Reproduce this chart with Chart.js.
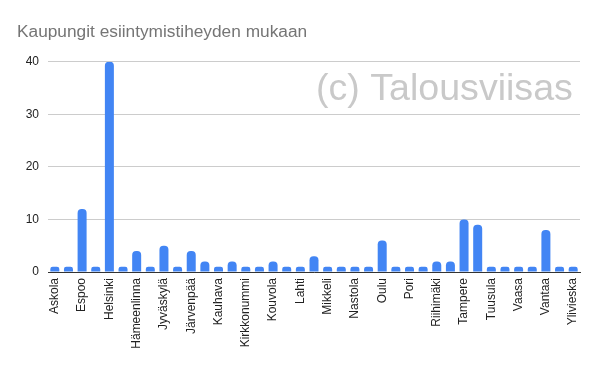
<!DOCTYPE html>
<html>
<head>
<meta charset="utf-8">
<script src="https://cdn.jsdelivr.net/npm/chart.js@4"></script>
<style>
  body { margin: 0; background: #fff; }
</style>
</head>
<body>
<canvas id="cityChart" width="600" height="371"></canvas>
<script>
// cities in alphabetical order, every other label is hidden on the axis
const cities = [
  "Askola", "Ekenäs", "Espoo", "Hamina", "Helsinki", "Hyvinkää", "Hämeenlinna", "Imatra",
  "Jyväskylä", "Jämsä", "Järvenpää", "Kajaani", "Kauhava", "Kerava", "Kirkkonummi", "Kokkola",
  "Kouvola", "Kuopio", "Lahti", "Lappeenranta", "Mikkeli", "Naantali", "Nastola", "Nokia",
  "Oulu", "Parainen", "Pori", "Porvoo", "Riihimäki", "Rovaniemi", "Tampere", "Turku",
  "Tuusula", "Ulvila", "Vaasa", "Valkeakoski", "Vantaa", "Vihti", "Ylivieska"
];
const counts = [
  1, 1, 12, 1, 40, 1, 4, 1,
  5, 1, 4, 2, 1, 2, 1, 1,
  2, 1, 1, 3, 1, 1, 1, 1,
  6, 1, 1, 1, 2, 2, 10, 9,
  1, 1, 1, 1, 8, 1, 1
];
const yTicks = [0, 10, 20, 30, 40];

const FONT = "'Liberation Sans', Arial, sans-serif";

// watermark in the upper right corner
const watermark = {
  id: "watermark",
  afterDraw(chart) {
    const c = chart.ctx;
    c.save();
    c.font = "37.6px " + FONT;
    c.fillStyle = "#c9c9c9";
    c.textBaseline = "alphabetic";
    c.textAlign = "left";
    c.fillText("(c) Talousviisas", 316, 100);
    c.restore();
  }
};

const ctx = document.getElementById("cityChart").getContext("2d");
const cityChart = new Chart(ctx, {
  type: "bar",
  data: {
    labels: cities,
    datasets: [
      {
        label: "Esiintymiä",
        data: counts,
        backgroundColor: "#4285f4",
        borderRadius: 4,
        categoryPercentage: 1,
        barPercentage: 0.66
      }
    ]
  },
  options: {
    responsive: false,
    animation: false,
    devicePixelRatio: 1,
    layout: { padding: { left: 17, right: 20, top: 0, bottom: 0 } },
    plugins: {
      legend: { display: false },
      tooltip: { enabled: false },
      title: {
        display: true,
        text: "Kaupungit esiintymistiheyden mukaan",
        align: "start",
        color: "#757575",
        font: { family: FONT, size: 17.3, weight: "normal" },
        padding: { top: 22, bottom: 19 }
      }
    },
    scales: {
      x: {
        grid: { display: false, drawTicks: false },
        border: { display: true, color: "#333333", width: 1 },
        ticks: {
          autoSkip: false,
          minRotation: 90,
          maxRotation: 90,
          padding: 6,
          color: "#222222",
          font: { family: FONT, size: 12 },
          callback: function (val, i) {
            return i % 2 === 0 ? this.getLabelForValue(val) : "";
          }
        },
        afterFit: (scale) => { scale.height = 99; }
      },
      y: {
        min: yTicks[0],
        max: yTicks[yTicks.length - 1],
        grid: { color: "#cccccc", drawTicks: false },
        border: { display: false },
        ticks: {
          stepSize: yTicks[1] - yTicks[0],
          padding: 9,
          color: "#222222",
          font: { family: FONT, size: 12 }
        },
        afterFit: (scale) => { scale.width = 31; }
      }
    }
  },
  plugins: [watermark]
});
</script>
</body>
</html>
